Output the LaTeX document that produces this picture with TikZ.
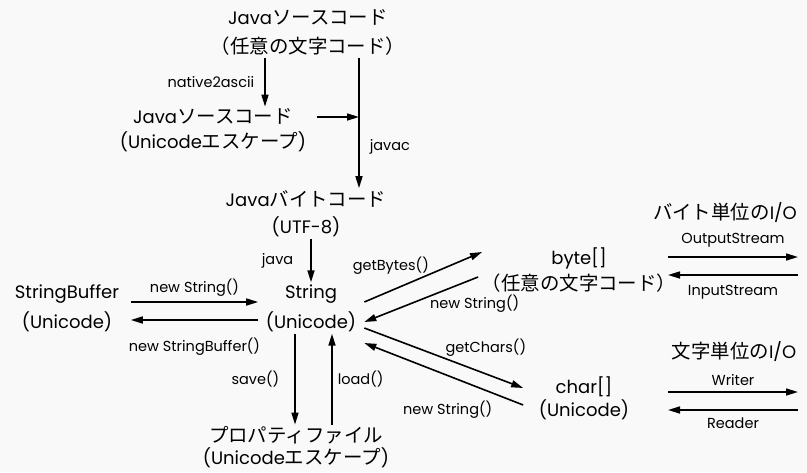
\documentclass[tikz,border=0pt]{standalone}
\usepackage{fontspec}
\setmainfont{Poppins}
\newfontfamily\jp{Noto Sans CJK JP}[Scale=1.08]
\usetikzlibrary{arrows.meta}
\begin{document}
\begin{tikzpicture}[x=1pt,y=-1pt,
  txt/.style={align=center, inner sep=2pt, font=\fontsize{18}{#1}\selectfont},
  txt/.default=28,
  head/.style={inner sep=1pt, font=\fontsize{18}{20}\selectfont},
  lab/.style={inner sep=1pt, font=\fontsize{14.5}{16}\selectfont},
  arr/.style={line width=1.6pt, -{Triangle[length=12pt,width=7pt]}}
]
\fill[gray!5] (0,0) rectangle (807,472);
\useasboundingbox (0,0) rectangle (807,472);

% nodes
\node[txt=29] (src1) at (308,32.5) {Java{\jp ソースコード}\\{\jp （任意の文字コード）}};
\node[txt=25] (src2) at (213,130.5) {Java{\jp ソースコード}\\(Unicode{\jp エスケープ})};
\node[txt=27] (bc)   at (306,213.5) {Java{\jp バイトコード}\\(UTF-8)};
\node[txt=30] (str)  at (311,308) {String\\(Unicode)};
\node[txt=30] (sb)   at (67,308) {StringBuffer\\(Unicode)};
\node[txt=22] (prop) at (296,447.5) {{\jp プロパティファイル}\\(Unicode{\jp エスケープ})};
\node[txt=26] (byte) at (579,270) {byte[]\\{\jp （任意の文字コード）}};
\node[txt=23] (chr)  at (584,398.5) {char[]\\(Unicode)};
\node[head] (hb) at (725,213) {{\jp バイト単位の}I/O};
\node[head] (hc) at (734,352) {{\jp 文字単位の}I/O};

% columns
\coordinate (xn) at (265,0);
\coordinate (xj) at (359,0);
\coordinate (xs) at (295,0);
\coordinate (xl) at (332,0);
\coordinate (ioL) at (668,0);
\coordinate (ioR) at (798,0);

% compilation chain
\draw[arr] (src1.south -| xn) -- (src2.north -| xn)
  node[lab, pos=0.5, left=9pt] {native2ascii};
\draw[arr] (src1.south -| xj) -- (bc.north -| xj)
  node[lab, pos=0.68, right=9pt] {javac};
\draw[arr] ([xshift=9pt,yshift=13.5pt]src2.east) coordinate (s2) -- (s2 -| xj);
\draw[arr] (bc.south -| str.north) -- (str.north)
  node[lab, midway, left=16pt] {java};

% String <-> StringBuffer
\draw[arr] ([xshift=9.5pt,yshift=6pt]sb.east) -- ([xshift=-5.5pt,yshift=6pt]str.west)
  node[lab, midway, yshift=14pt] {new String()};
\draw[arr] ([xshift=-5.5pt,yshift=-12pt]str.west) -- ([xshift=9.5pt,yshift=-12pt]sb.east)
  node[lab, midway, yshift=-27pt] {new StringBuffer()};

% String <-> property file
\draw[arr] (str.south -| xs) -- (prop.north -| xs)
  node[lab, midway, left=14pt] {save()};
\draw[arr] (prop.north -| xl) -- (str.south -| xl)
  node[lab, midway, right=4pt] {load()};

% String <-> byte[]
\draw[arr] ([xshift=6pt,yshift=6pt]str.east) -- ([xshift=2.5pt,yshift=18pt]byte.west)
  node[lab, pos=0.225, yshift=25pt] {getBytes()};
\draw[arr] ([xshift=-1.5pt,yshift=-7pt]byte.west) -- ([xshift=6pt,yshift=-14pt]str.east)
  node[lab, pos=0.03, yshift=-25pt] {new String()};

% String <-> char[]
\draw[arr] ([xshift=6pt,yshift=-20pt]str.east) -- ([xshift=-13.5pt,yshift=10.5pt]chr.west)
  node[lab, pos=0.765, yshift=26pt] {getChars()};
\draw[arr] ([xshift=-13.5pt,yshift=-6.5pt]chr.west) -- ([xshift=6pt,yshift=-35pt]str.east)
  node[lab, pos=0.475, yshift=-34.5pt] {new String()};

% byte-oriented I/O
\coordinate (o1) at ([yshift=13pt]byte.east);
\coordinate (i1) at ([yshift=-5pt]byte.east);
\draw[arr] (o1 -| ioL) -- (o1 -| ioR)
  node[lab, midway, yshift=17pt] {OutputStream};
\draw[arr] (i1 -| ioR) -- (i1 -| ioL)
  node[lab, midway, yshift=-17pt] {InputStream};

% character-oriented I/O
\coordinate (w1) at ([yshift=6.5pt]chr.east);
\coordinate (r1) at ([yshift=-11.5pt]chr.east);
\draw[arr] (w1 -| ioL) -- (w1 -| ioR)
  node[lab, midway, yshift=12pt] {Writer};
\draw[arr] (r1 -| ioR) -- (r1 -| ioL)
  node[lab, midway, yshift=-13pt] {Reader};
\end{tikzpicture}
\end{document}
